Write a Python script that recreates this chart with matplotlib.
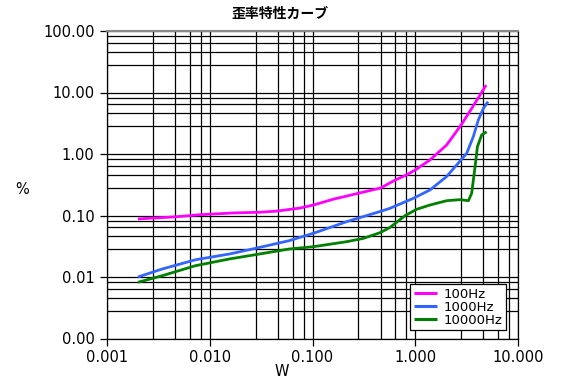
import numpy as np
import matplotlib
matplotlib.use("Agg")
import matplotlib.pyplot as plt
from matplotlib.ticker import LogLocator, FixedLocator, FuncFormatter, NullFormatter

# distortion (%) vs output power (W)
x_100 = [0.002, 0.0046, 0.008, 0.017, 0.031, 0.045, 0.0755, 0.102, 0.159, 0.215,
         0.46, 0.64, 0.82, 1.0, 1.39, 2.02, 2.8, 3.54, 4.27, 4.9]
y_100 = [0.088, 0.095, 0.103, 0.110, 0.113, 0.118, 0.132, 0.148, 0.184, 0.207,
         0.28, 0.378, 0.456, 0.55, 0.80, 1.40, 2.97, 5.5, 9.1, 13.2]

x_1k = [0.002, 0.00345, 0.0073, 0.0154, 0.028, 0.059, 0.102, 0.215, 0.454, 0.568,
        0.957, 1.39, 2.02, 2.62, 3.17, 3.67, 4.11, 4.6, 5.1]
y_1k = [0.0100, 0.0135, 0.0191, 0.0236, 0.0293, 0.0389, 0.0514, 0.0794, 0.116, 0.131,
        0.19, 0.26, 0.43, 0.71, 1.03, 1.91, 3.57, 5.5, 7.1]

x_10k = [0.002, 0.00345, 0.0073, 0.0154, 0.028, 0.059, 0.102, 0.215, 0.313, 0.454,
         0.568, 0.8, 1.03, 1.39, 2.02, 2.73, 3.29, 3.54, 3.82, 4.03, 4.43, 4.95]
y_10k = [0.0082, 0.0105, 0.0153, 0.0196, 0.0231, 0.0285, 0.0311, 0.0375, 0.0425, 0.0525,
         0.064, 0.10, 0.126, 0.148, 0.174, 0.181, 0.174, 0.23, 0.62, 1.32, 2.04, 2.3]

series = [("100Hz", x_100, y_100, "#ff00ff"),
          ("1000Hz", x_1k, y_1k, "#3366ff"),
          ("10000Hz", x_10k, y_10k, "#008000")]

x_ticks = [0.001, 0.01, 0.1, 1, 10]
y_ticks = [0.001, 0.01, 0.1, 1, 10, 100]
grid_subs = [2.8, 4.6, 6.4, 8.2]

W, H = 561, 383
fig = plt.figure(figsize=(W / 100, H / 100), dpi=100)
ax = fig.add_axes([107 / W, 1 - 338.5 / H, 411 / W, 307.5 / H])

for name, xs, ys, col in series:
    ax.plot(xs, ys, color=col, lw=2.0, label=name, solid_capstyle="butt", zorder=3)

ax.set_xscale("log")
ax.set_yscale("log")
ax.set_xlim(0.001, 10)
ax.set_ylim(0.001, 100)

ax.xaxis.set_major_locator(FixedLocator(x_ticks))
ax.yaxis.set_major_locator(FixedLocator(y_ticks))
ax.xaxis.set_minor_locator(LogLocator(base=10, subs=grid_subs, numticks=20))
ax.yaxis.set_minor_locator(LogLocator(base=10, subs=grid_subs, numticks=20))
ax.xaxis.set_major_formatter(FuncFormatter(lambda v, p: "%.3f" % v))
ax.yaxis.set_major_formatter(FuncFormatter(lambda v, p: "%.2f" % v))
ax.xaxis.set_minor_formatter(NullFormatter())
ax.yaxis.set_minor_formatter(NullFormatter())

ax.grid(True, which="both", color="black", lw=0.9)
ax.tick_params(which="major", direction="out", length=5, width=0.9,
               labelsize=10.5, color="black")
ax.tick_params(axis="y", pad=4)
ax.tick_params(axis="x", pad=3)
ax.tick_params(which="minor", length=0)
ax.tick_params(top=False, right=False)
for s in ["left", "bottom", "right"]:
    ax.spines[s].set_linewidth(0.9)
ax.spines["top"].set_color("#888888")
ax.spines["top"].set_linewidth(1.5)

leg = ax.legend(loc="lower right", bbox_to_anchor=(0.971, 0.0276),
                fontsize=9.5, fancybox=False, framealpha=1,
                edgecolor="black", handlelength=1.8, handletextpad=0.5,
                labelspacing=0.0, borderpad=0.25, borderaxespad=0)
leg.get_frame().set_linewidth(0.9)
for ln in leg.get_lines():
    ln.set_linewidth(2.2)

fig.text(280 / W, 1 - 14 / H, "歪率特性カーブ", ha="center", va="center",
         fontsize=10, fontweight="bold", family=["Noto Sans CJK JP", "DejaVu Sans"])
fig.text(22 / W, 1 - 190 / H, "%", ha="center", va="center", fontsize=10.5)
fig.text(282 / W, 1 - 371 / H, "W", ha="center", va="center", fontsize=10.5)

fig.savefig("out.png", dpi=100)
